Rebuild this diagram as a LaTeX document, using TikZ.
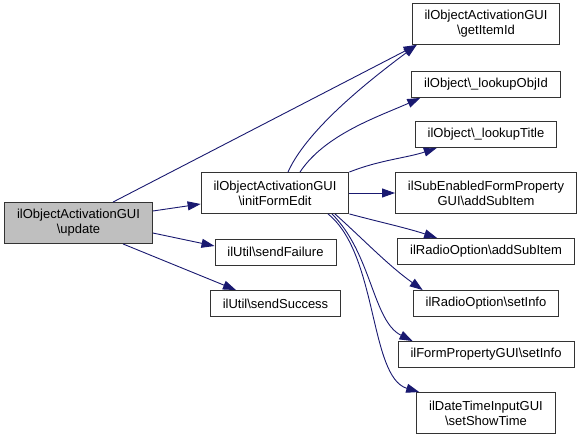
\documentclass[tikz,border=0pt]{standalone}
\usepackage{fontspec}
\setmainfont{Liberation Sans}
\usetikzlibrary{arrows.meta}
\definecolor{edgeblue}{RGB}{25,25,112}
\definecolor{boxgray}{RGB}{191,191,191}
\begin{document}
\begin{tikzpicture}[x=1pt,y=-1pt,
  fn/.style={draw=black!80, line width=0.9pt, fill=white, inner xsep=12.5pt, inner ysep=0pt, align=center, font=\fontsize{13}{15}\selectfont},
  one/.style={fn, minimum height=26pt},
  two/.style={fn, minimum height=41pt},
  call/.style={draw=edgeblue, line width=0.9pt, -{Triangle[length=13pt,width=9pt,color=edgeblue]}}]
\useasboundingbox (0,0) rectangle (580,439);

\node[two, fill=boxgray] (update) at (78.5,223) {ilObjectActivationGUI\\\textbackslash update};
\node[two] (init) at (275,193) {ilObjectActivationGUI\\\textbackslash initFormEdit};
\node[one] (fail) at (275.5,252) {ilUtil\textbackslash sendFailure};
\node[one] (succ) at (275.5,303.5) {ilUtil\textbackslash sendSuccess};

\node[two] (getid) at (486,24) {ilObjectActivationGUI\\\textbackslash getItemId};
\node[one] (objid) at (486,84.5) {ilObject\textbackslash\_lookupObjId};
\node[one] (title) at (486,134.5) {ilObject\textbackslash\_lookupTitle};
\node[two] (subenab) at (486,193) {ilSubEnabledFormProperty\\GUI\textbackslash addSubItem};
\node[one] (radsub) at (486,251.5) {ilRadioOption\textbackslash addSubItem};
\node[one] (radinfo) at (486,303.5) {ilRadioOption\textbackslash setInfo};
\node[one] (forminfo) at (486,354.5) {ilFormPropertyGUI\textbackslash setInfo};
\node[two] (datetime) at (486,413) {ilDateTimeInputGUI\\\textbackslash setShowTime};

% from update
\draw[call] ([yshift=12pt]update.east) -- ([yshift=-11pt]init.west);
\draw[call] ([yshift=-10pt]update.east) -- ([yshift=6pt]fail.west);
\draw[call] ([xshift=44.5pt]update.south) -- ([xshift=-39.5pt]succ.north);
\draw[call] ([xshift=34.5pt]update.north) -- ([xshift=5pt]getid.south west);

% from initFormEdit
\draw[call] ([xshift=13pt]init.north) .. controls +(20,-45) and +(-40,30) .. ([xshift=5pt]getid.south west);
\draw[call] ([xshift=25pt]init.north) .. controls +(25,-38) and +(-40,18) .. ([xshift=9pt]objid.south west);
\draw[call] (init.north east) .. controls +(30,-12) and +(-30,10) .. ([xshift=22pt]title.south west);
\draw[call] (init.east) -- (subenab.west);
\draw[call] (init.south east) .. controls +(30,8) and +(-30,-10) .. ([xshift=40pt]radsub.north west);
\draw[call] ([xshift=60pt]init.south) .. controls +(28,25) and +(-35,-25) .. ([xshift=10pt]radinfo.north west);
\draw[call] ([xshift=57pt]init.south) .. controls +(40,40) and +(-40,-20) .. ([xshift=15pt]forminfo.north west);
\draw[call] ([xshift=53pt]init.south) .. controls +(50,40) and +(-50,-15) .. ([xshift=3pt]datetime.north west);
\end{tikzpicture}
\end{document}
